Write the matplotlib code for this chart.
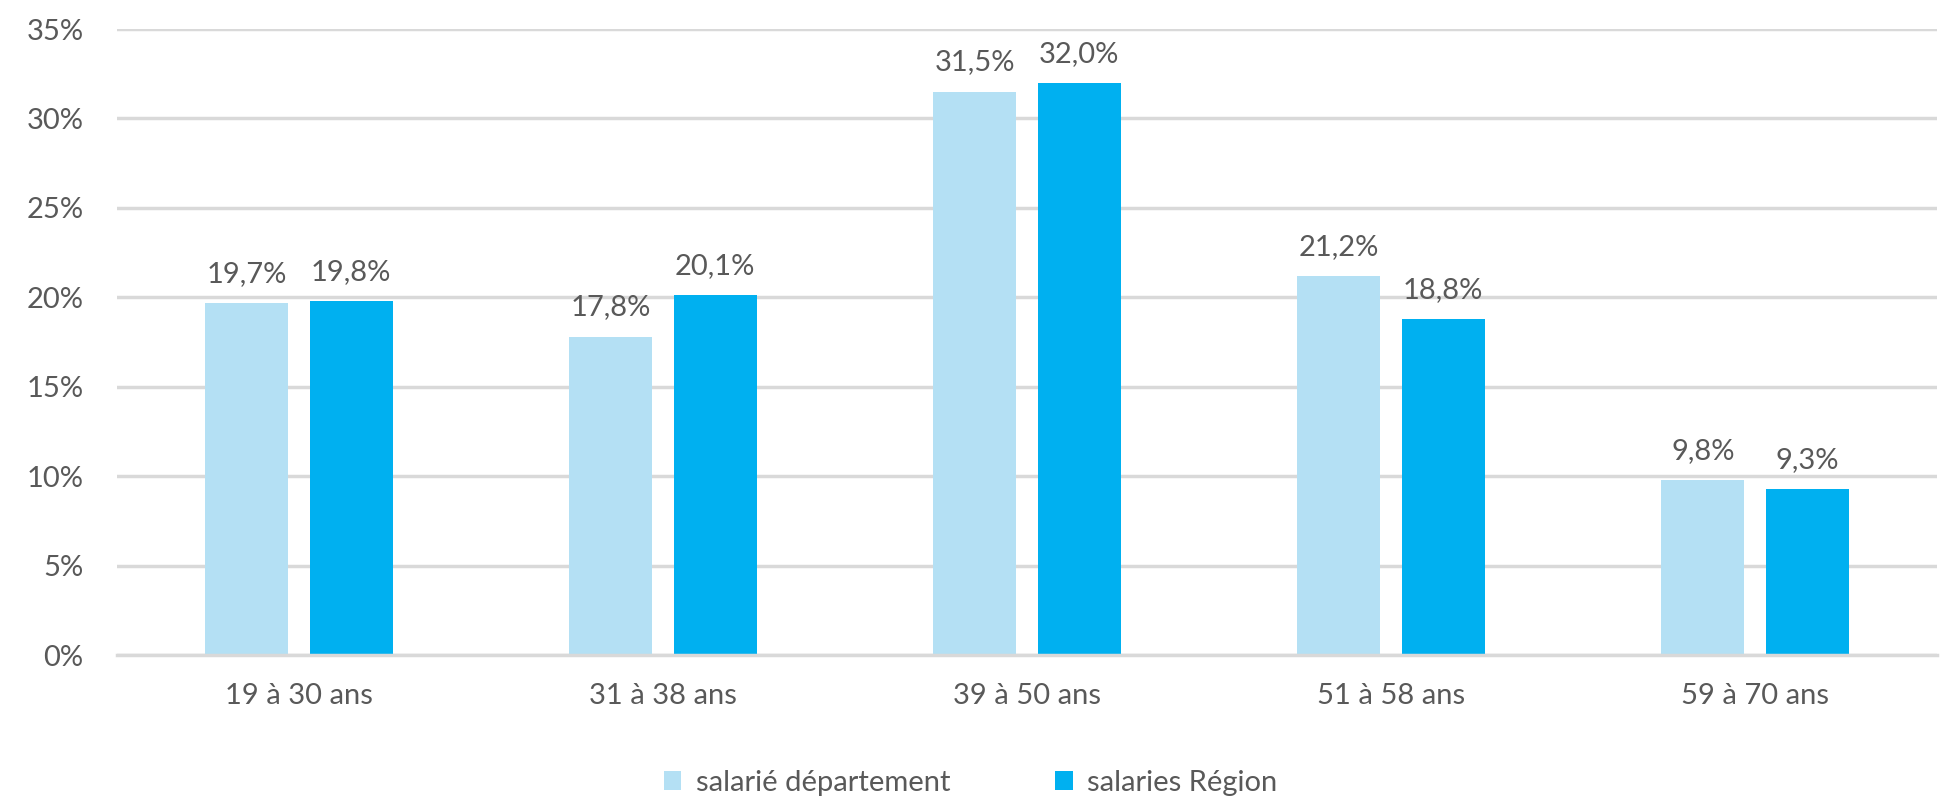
import matplotlib as mpl
import matplotlib.pyplot as plt
import numpy as np

mpl.use("Agg")

# donnees
categories = ["19 à 30 ans", "31 à 38 ans", "39 à 50 ans", "51 à 58 ans", "59 à 70 ans"]
departement = [19.7, 17.8, 31.5, 21.2, 9.8]
region = [19.8, 20.1, 32.0, 18.8, 9.3]
yticks = [0, 5, 10, 15, 20, 25, 30, 35]

c_light = "#B4E0F4"
c_dark = "#00B0F0"
c_text = "#595959"
fs = 21

plt.rcParams["font.family"] = ["Lato", "DejaVu Sans"]

fig = plt.figure(figsize=(19.41, 8), dpi=100)
ax = fig.add_axes([117 / 1941, 1 - 655 / 800, 1820 / 1941, 626 / 800])

x = np.arange(len(categories))
w = 0.228
off = 0.143
b1 = ax.bar(x - off, departement, w, color=c_light, label="salarié département", zorder=2)
b2 = ax.bar(x + off, region, w, color=c_dark, label="salaries Région", zorder=2)

for bars, vals in ((b1, departement), (b2, region)):
    for b, v in zip(bars, vals):
        ax.text(b.get_x() + b.get_width() / 2, v + 0.9, f"{v:.1f}%".replace(".", ","),
                ha="center", va="bottom", fontsize=fs, color=c_text)

ax.set_xlim(-0.5, len(categories) - 0.5)
ax.set_ylim(0, 35)
ax.set_yticks(yticks)
ax.set_yticklabels([f"{t}%" for t in yticks])
ax.set_xticks(x)
ax.set_xticklabels(categories)
ax.tick_params(axis="both", length=0, labelsize=fs, colors=c_text)
ax.tick_params(axis="y", pad=24)
ax.tick_params(axis="x", pad=20)
ax.grid(axis="y", color="#D9D9D9", linewidth=2.5, zorder=0)
ax.set_axisbelow(True)
for s in ["top", "right", "left"]:
    ax.spines[s].set_visible(False)
ax.spines["bottom"].set_color("#D9D9D9")
ax.spines["bottom"].set_linewidth(2.5)

leg = fig.legend(loc="center", bbox_to_anchor=(0.5, 1 - 783 / 800), ncol=2, frameon=False,
                 fontsize=fs, handlelength=0.6, handleheight=0.6, handletextpad=0.5,
                 columnspacing=3.6, labelcolor=c_text)

fig.savefig("out.png", dpi=100, facecolor="white")
